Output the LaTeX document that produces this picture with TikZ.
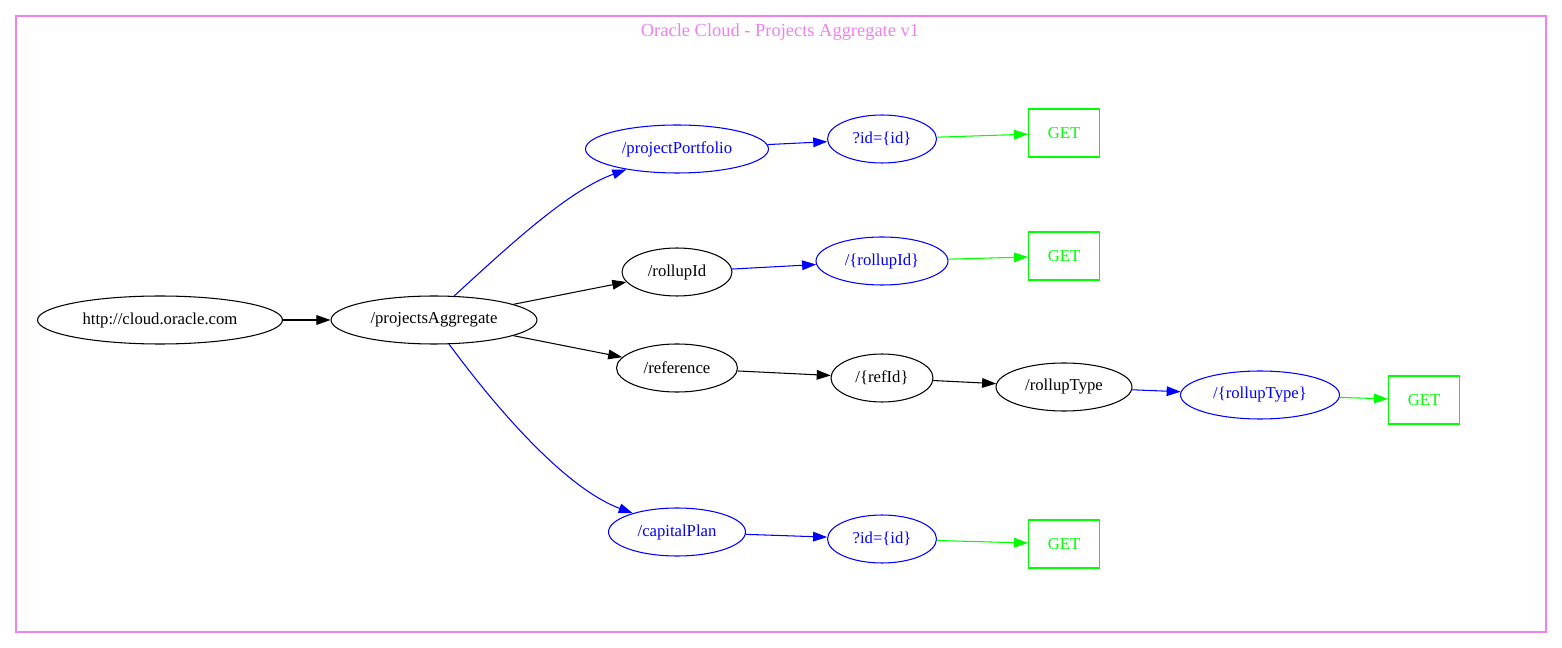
\documentclass[tikz,border=0pt]{standalone}
\usepackage{fontspec}
\setmainfont{Liberation Serif}
\usepackage{xcolor}
\usetikzlibrary{shapes.geometric, arrows.meta}
\definecolor{clusterpink}{HTML}{EE82EE}
\definecolor{getgreen}{HTML}{00FF00}

\begin{document}
\begin{tikzpicture}[x=0.02cm, y=-0.02cm,
    every node/.style={font=\fontsize{9.5}{11.4}\selectfont, inner sep=0pt},
    res/.style={ellipse, draw, line width=0.6pt, minimum height=0.96cm},
    param/.style={res, draw=blue, text=blue},
    verb/.style={rectangle, draw=getgreen, text=getgreen, line width=0.6pt, minimum width=1.42cm, minimum height=0.96cm},
    arrow/.style={-{Triangle[length=8pt, width=5.5pt]}, line width=0.6pt},
    barrow/.style={arrow, blue},
    garrow/.style={arrow, getgreen}
]
\useasboundingbox (0,0) rectangle (1562,648);

% cluster
\draw[clusterpink, line width=0.6pt] (16,16) rectangle (1546,632);
\node[text=clusterpink, font=\fontsize{10.5}{12.6}\selectfont] (title) at (780,32) {Oracle Cloud - Projects Aggregate v1};

\node[res, minimum width=4.9cm] (root) at (160,320) {http://cloud.oracle.com};
\node[res, minimum width=4.12cm] (agg) at (434,320) {/projectsAggregate};

\node[param, minimum width=3.66cm] (portfolio) at (677,149) {/projectPortfolio};
\node[param, minimum width=2.18cm] (portfolioid) at (882,139) {?id=\{id\}};
\node[verb] (portfolioget) at (1064,133) {GET};

\node[res, minimum width=2.2cm] (rollup) at (677,272) {/rollupId};
\node[param, minimum width=2.64cm] (rollupid) at (882,261) {/\{rollupId\}};
\node[verb] (rollupget) at (1064,256) {GET};

\node[res, minimum width=2.42cm] (reference) at (677,368) {/reference};
\node[res, minimum width=2.04cm] (refid) at (882,378) {/\{refId\}};
\node[res, minimum width=2.72cm] (rolluptype) at (1064,387) {/rollupType};
\node[param, minimum width=3.18cm] (rolluptypeid) at (1260,395) {/\{rollupType\}};
\node[verb] (rolluptypeget) at (1424,400) {GET};

\node[param, minimum width=2.74cm] (capital) at (677,532) {/capitalPlan};
\node[param, minimum width=2.18cm] (capitalid) at (882,539) {?id=\{id\}};
\node[verb] (capitalget) at (1064,544) {GET};

\draw[arrow] (root) -- (agg);
\draw[barrow] (agg.50) .. controls (515,240) and (570,190) .. (portfolio.202);
\draw[arrow] (agg) -- (rollup);
\draw[arrow] (agg) -- (reference);
\draw[barrow] (agg.-58) .. controls (505,420) and (570,490) .. (capital.157);

\draw[barrow] (portfolio) -- (portfolioid);
\draw[garrow] (portfolioid) -- (portfolioget);
\draw[barrow] (rollup) -- (rollupid);
\draw[garrow] (rollupid) -- (rollupget);
\draw[arrow] (reference) -- (refid);
\draw[arrow] (refid) -- (rolluptype);
\draw[barrow] (rolluptype) -- (rolluptypeid);
\draw[garrow] (rolluptypeid) -- (rolluptypeget);
\draw[barrow] (capital) -- (capitalid);
\draw[garrow] (capitalid) -- (capitalget);

\end{tikzpicture}
\end{document}
